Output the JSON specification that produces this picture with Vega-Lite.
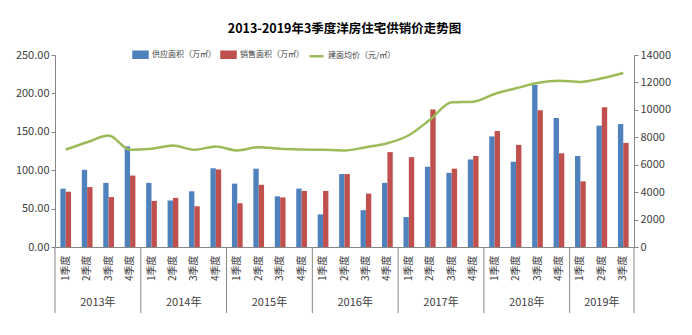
{
  "$schema": "https://vega.github.io/schema/vega-lite/v6.json",
  "width": 579,
  "height": 192,
  "autosize": {"type": "none"},
  "padding": {"left": 55, "top": 55, "right": 58, "bottom": 88},
  "background": "white",
  "title": {"text": "2013-2019年3季度洋房住宅供销价走势图", "fontSize": 12.5, "fontWeight": "bold", "font": "Noto Sans CJK SC", "color": "#000000", "anchor": "middle", "offset": 11},
  "config": {"view": {"stroke": null}, "font": "Noto Sans CJK SC"},
  "datasets": {
    "area": [
      {"period": "2013年1季度", "series": "供应面积（万㎡）", "value": 76},
      {"period": "2013年1季度", "series": "销售面积（万㎡）", "value": 72},
      {"period": "2013年2季度", "series": "供应面积（万㎡）", "value": 100.5},
      {"period": "2013年2季度", "series": "销售面积（万㎡）", "value": 78},
      {"period": "2013年3季度", "series": "供应面积（万㎡）", "value": 83.5},
      {"period": "2013年3季度", "series": "销售面积（万㎡）", "value": 65},
      {"period": "2013年4季度", "series": "供应面积（万㎡）", "value": 131},
      {"period": "2013年4季度", "series": "销售面积（万㎡）", "value": 93},
      {"period": "2014年1季度", "series": "供应面积（万㎡）", "value": 83.5},
      {"period": "2014年1季度", "series": "销售面积（万㎡）", "value": 60},
      {"period": "2014年2季度", "series": "供应面积（万㎡）", "value": 60.5},
      {"period": "2014年2季度", "series": "销售面积（万㎡）", "value": 64},
      {"period": "2014年3季度", "series": "供应面积（万㎡）", "value": 72.5},
      {"period": "2014年3季度", "series": "销售面积（万㎡）", "value": 53},
      {"period": "2014年4季度", "series": "供应面积（万㎡）", "value": 102.5},
      {"period": "2014年4季度", "series": "销售面积（万㎡）", "value": 101},
      {"period": "2015年1季度", "series": "供应面积（万㎡）", "value": 82.5},
      {"period": "2015年1季度", "series": "销售面积（万㎡）", "value": 57},
      {"period": "2015年2季度", "series": "供应面积（万㎡）", "value": 102},
      {"period": "2015年2季度", "series": "销售面积（万㎡）", "value": 81},
      {"period": "2015年3季度", "series": "供应面积（万㎡）", "value": 66},
      {"period": "2015年3季度", "series": "销售面积（万㎡）", "value": 64.5},
      {"period": "2015年4季度", "series": "供应面积（万㎡）", "value": 76},
      {"period": "2015年4季度", "series": "销售面积（万㎡）", "value": 73},
      {"period": "2016年1季度", "series": "供应面积（万㎡）", "value": 42.5},
      {"period": "2016年1季度", "series": "销售面积（万㎡）", "value": 73},
      {"period": "2016年2季度", "series": "供应面积（万㎡）", "value": 95},
      {"period": "2016年2季度", "series": "销售面积（万㎡）", "value": 95},
      {"period": "2016年3季度", "series": "供应面积（万㎡）", "value": 48},
      {"period": "2016年3季度", "series": "销售面积（万㎡）", "value": 69.5},
      {"period": "2016年4季度", "series": "供应面积（万㎡）", "value": 83.5},
      {"period": "2016年4季度", "series": "销售面积（万㎡）", "value": 123.5},
      {"period": "2017年1季度", "series": "供应面积（万㎡）", "value": 39},
      {"period": "2017年1季度", "series": "销售面积（万㎡）", "value": 117},
      {"period": "2017年2季度", "series": "供应面积（万㎡）", "value": 104.5},
      {"period": "2017年2季度", "series": "销售面积（万㎡）", "value": 179},
      {"period": "2017年3季度", "series": "供应面积（万㎡）", "value": 96.5},
      {"period": "2017年3季度", "series": "销售面积（万㎡）", "value": 102},
      {"period": "2017年4季度", "series": "供应面积（万㎡）", "value": 114},
      {"period": "2017年4季度", "series": "销售面积（万㎡）", "value": 118.5},
      {"period": "2018年1季度", "series": "供应面积（万㎡）", "value": 144},
      {"period": "2018年1季度", "series": "销售面积（万㎡）", "value": 151},
      {"period": "2018年2季度", "series": "供应面积（万㎡）", "value": 111},
      {"period": "2018年2季度", "series": "销售面积（万㎡）", "value": 133},
      {"period": "2018年3季度", "series": "供应面积（万㎡）", "value": 211},
      {"period": "2018年3季度", "series": "销售面积（万㎡）", "value": 178},
      {"period": "2018年4季度", "series": "供应面积（万㎡）", "value": 168},
      {"period": "2018年4季度", "series": "销售面积（万㎡）", "value": 122},
      {"period": "2019年1季度", "series": "供应面积（万㎡）", "value": 118.5},
      {"period": "2019年1季度", "series": "销售面积（万㎡）", "value": 85.5},
      {"period": "2019年2季度", "series": "供应面积（万㎡）", "value": 158},
      {"period": "2019年2季度", "series": "销售面积（万㎡）", "value": 182},
      {"period": "2019年3季度", "series": "供应面积（万㎡）", "value": 160},
      {"period": "2019年3季度", "series": "销售面积（万㎡）", "value": 135.5}
    ],
    "price": [
      {"period": "2013年1季度", "series": "建面均价（元/㎡）", "price": 7110},
      {"period": "2013年2季度", "series": "建面均价（元/㎡）", "price": 7640},
      {"period": "2013年3季度", "series": "建面均价（元/㎡）", "price": 8130},
      {"period": "2013年4季度", "series": "建面均价（元/㎡）", "price": 7090},
      {"period": "2014年1季度", "series": "建面均价（元/㎡）", "price": 7160},
      {"period": "2014年2季度", "series": "建面均价（元/㎡）", "price": 7400},
      {"period": "2014年3季度", "series": "建面均价（元/㎡）", "price": 7090},
      {"period": "2014年4季度", "series": "建面均价（元/㎡）", "price": 7330},
      {"period": "2015年1季度", "series": "建面均价（元/㎡）", "price": 7040},
      {"period": "2015年2季度", "series": "建面均价（元/㎡）", "price": 7280},
      {"period": "2015年3季度", "series": "建面均价（元/㎡）", "price": 7160},
      {"period": "2015年4季度", "series": "建面均价（元/㎡）", "price": 7110},
      {"period": "2016年1季度", "series": "建面均价（元/㎡）", "price": 7090},
      {"period": "2016年2季度", "series": "建面均价（元/㎡）", "price": 7040},
      {"period": "2016年3季度", "series": "建面均价（元/㎡）", "price": 7280},
      {"period": "2016年4季度", "series": "建面均价（元/㎡）", "price": 7570},
      {"period": "2017年1季度", "series": "建面均价（元/㎡）", "price": 8150},
      {"period": "2017年2季度", "series": "建面均价（元/㎡）", "price": 9300},
      {"period": "2017年3季度", "series": "建面均价（元/㎡）", "price": 10550},
      {"period": "2017年4季度", "series": "建面均价（元/㎡）", "price": 10600},
      {"period": "2018年1季度", "series": "建面均价（元/㎡）", "price": 11160},
      {"period": "2018年2季度", "series": "建面均价（元/㎡）", "price": 11570},
      {"period": "2018年3季度", "series": "建面均价（元/㎡）", "price": 11960},
      {"period": "2018年4季度", "series": "建面均价（元/㎡）", "price": 12130},
      {"period": "2019年1季度", "series": "建面均价（元/㎡）", "price": 12040},
      {"period": "2019年2季度", "series": "建面均价（元/㎡）", "price": 12300},
      {"period": "2019年3季度", "series": "建面均价（元/㎡）", "price": 12690}
    ],
    "years": [
      {"year": "2013年", "start": "2013年1季度", "mid": "2013年2季度", "end": "2013年4季度", "full": true},
      {"year": "2014年", "start": "2014年1季度", "mid": "2014年2季度", "end": "2014年4季度", "full": true},
      {"year": "2015年", "start": "2015年1季度", "mid": "2015年2季度", "end": "2015年4季度", "full": true},
      {"year": "2016年", "start": "2016年1季度", "mid": "2016年2季度", "end": "2016年4季度", "full": true},
      {"year": "2017年", "start": "2017年1季度", "mid": "2017年2季度", "end": "2017年4季度", "full": true},
      {"year": "2018年", "start": "2018年1季度", "mid": "2018年2季度", "end": "2018年4季度", "full": true},
      {"year": "2019年", "start": "2019年1季度", "mid": "2019年2季度", "end": "2019年3季度", "full": false}
    ]
  },
  "layer": [
    {
      "layer": [
        {
          "data": {"name": "area"},
          "mark": {"type": "bar"},
          "encoding": {
            "x": {"field": "period", "type": "ordinal", "scale": {"type": "band", "paddingInner": 0.5, "paddingOuter": 0.25},
              "axis": {"title": null, "labelAngle": -90, "labelExpr": "split(datum.label, '年')[1]", "ticks": false, "domainColor": "#868686", "labelFontSize": 10, "labelColor": "#404040", "labelPadding": 8}},
            "xOffset": {"field": "series", "type": "nominal", "scale": {"domain": ["供应面积（万㎡）", "销售面积（万㎡）"], "paddingInner": 0, "paddingOuter": 0}},
            "y": {"field": "value", "type": "quantitative", "scale": {"domain": [0, 250], "nice": false},
              "axis": {"orient": "left", "title": null, "format": ".2f", "values": [0, 50, 100, 150, 200, 250], "tickCount": 6, "labelOverlap": false, "grid": false, "domainColor": "#868686", "tickColor": "#868686", "tickSize": 4, "labelFontSize": 11, "labelColor": "#404040", "labelPadding": 2}},
            "color": {"field": "series", "type": "nominal",
              "scale": {"domain": ["供应面积（万㎡）", "销售面积（万㎡）", "建面均价（元/㎡）"], "range": ["#4F81BD", "#C0504D", "#9BBB59"]},
              "legend": {"orient": "none", "legendX": 77, "legendY": -9, "direction": "horizontal", "title": null, "padding": 0,
                "labelFontSize": 8, "labelColor": "#404040", "symbolSize": 196, "labelOffset": 3, "columnPadding": 0,
                "encode": {"symbols": {"update": {
                  "shape": {"signal": "datum.value === '建面均价（元/㎡）' ? 'M-1,0H1' : 'M-1,-0.43H1V0.43H-1Z'"},
                  "fill": {"signal": "datum.value === '建面均价（元/㎡）' ? 'transparent' : scale('color', datum.value)"},
                  "stroke": {"signal": "datum.value === '建面均价（元/㎡）' ? scale('color', datum.value) : 'transparent'"},
                  "strokeWidth": {"value": 2.5}
                }}}}}
          }
        },
        {
          "data": {"name": "years"},
          "mark": {"type": "rule", "color": "#868686", "strokeWidth": 1},
          "encoding": {
            "x": {"field": "end", "type": "ordinal", "bandPosition": 1.5},
            "y": {"datum": 0, "type": "quantitative",
              "axis": {"orient": "left", "title": null, "format": ".2f", "values": [0, 50, 100, 150, 200, 250], "tickCount": 6, "labelOverlap": false, "grid": false, "domainColor": "#868686", "tickColor": "#868686", "tickSize": 4, "labelFontSize": 11, "labelColor": "#404040", "labelPadding": 2}},
            "y2": {"datum": -86}
          }
        },
        {
          "data": {"name": "years"},
          "transform": [{"filter": "datum.year === '2013年'"}],
          "mark": {"type": "rule", "color": "#868686", "strokeWidth": 1},
          "encoding": {
            "x": {"field": "start", "type": "ordinal", "bandPosition": -0.5},
            "y": {"datum": 0, "type": "quantitative",
              "axis": {"orient": "left", "title": null, "format": ".2f", "values": [0, 50, 100, 150, 200, 250], "tickCount": 6, "labelOverlap": false, "grid": false, "domainColor": "#868686", "tickColor": "#868686", "tickSize": 4, "labelFontSize": 11, "labelColor": "#404040", "labelPadding": 2}},
            "y2": {"datum": -86}
          }
        },
        {
          "data": {"name": "years"},
          "transform": [{"filter": "datum.full"}],
          "mark": {"type": "text", "fontSize": 11, "color": "#404040", "baseline": "middle"},
          "encoding": {
            "x": {"field": "mid", "type": "ordinal", "bandPosition": 1.5},
            "y": {"datum": -72.5, "type": "quantitative",
              "axis": {"orient": "left", "title": null, "format": ".2f", "values": [0, 50, 100, 150, 200, 250], "tickCount": 6, "labelOverlap": false, "grid": false, "domainColor": "#868686", "tickColor": "#868686", "tickSize": 4, "labelFontSize": 11, "labelColor": "#404040", "labelPadding": 2}},
            "text": {"field": "year"}
          }
        },
        {
          "data": {"name": "years"},
          "transform": [{"filter": "!datum.full"}],
          "mark": {"type": "text", "fontSize": 11, "color": "#404040", "baseline": "middle"},
          "encoding": {
            "x": {"field": "mid", "type": "ordinal", "bandPosition": 0.5},
            "y": {"datum": -72.5, "type": "quantitative",
              "axis": {"orient": "left", "title": null, "format": ".2f", "values": [0, 50, 100, 150, 200, 250], "tickCount": 6, "labelOverlap": false, "grid": false, "domainColor": "#868686", "tickColor": "#868686", "tickSize": 4, "labelFontSize": 11, "labelColor": "#404040", "labelPadding": 2}},
            "text": {"field": "year"}
          }
        }
      ]
    },
    {
      "data": {"name": "price"},
      "mark": {"type": "line", "interpolate": "monotone", "strokeWidth": 2.5},
      "encoding": {
        "x": {"field": "period", "type": "ordinal"},
        "y": {"field": "price", "type": "quantitative", "scale": {"domain": [0, 14000], "nice": false},
          "axis": {"orient": "right", "title": null, "format": "d", "values": [0, 2000, 4000, 6000, 8000, 10000, 12000, 14000], "labelOverlap": false, "grid": false, "domainColor": "#868686", "tickColor": "#868686", "tickSize": 4, "labelFontSize": 11, "labelColor": "#404040", "labelPadding": 2}},
        "color": {"field": "series", "type": "nominal"}
      }
    }
  ],
  "resolve": {"scale": {"y": "independent"}}
}
